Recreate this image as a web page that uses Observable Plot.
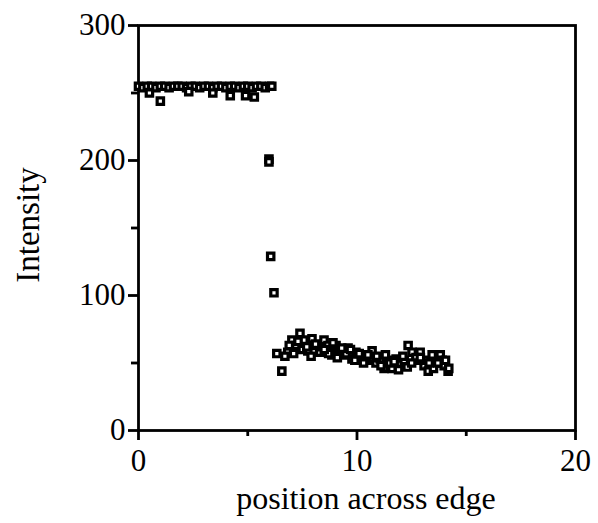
<!DOCTYPE html>
<html>
<head>
<meta charset="utf-8">
<script src="https://cdn.jsdelivr.net/npm/d3@7"></script>
<script src="https://cdn.jsdelivr.net/npm/@observablehq/plot@0.6"></script>
<style>
  html, body { margin: 0; padding: 0; background: white; }
</style>
</head>
<body>
<div id="chart"></div>
<script>
// Plateau (bright side of the edge)
const plateauX = [0,0.2,0.4,0.6,0.8,1.0,1.2,1.4,1.6,1.8,2.0,2.2,2.4,2.6,2.8,3.0,3.2,3.4,3.6,3.8,4.0,4.2,4.4,4.6,4.8,5.0,5.2,5.4,5.6,5.8,6.0,6.1,
                  0.5,1.0,2.3,3.4,4.2,4.9,5.3];
const plateauY = [255,254,255,255,254,255,255,254,255,255,255,254,255,255,254,255,255,254,255,255,254,255,255,254,255,255,254,255,255,254,255,255,
                  250,244,251,250,248,248,247];
// Transition across the edge
const edgeX = [5.97, 5.97, 6.05, 6.2];
const edgeY = [201, 199, 129, 102];
// Dark side of the edge
const darkX = [6.33,6.56,6.83,7.02,7.2,7.39,7.57,7.75,7.94,8.12,8.3,8.49,8.67,8.85,9.04,9.22,9.4,9.59,9.77,9.95,10.14,10.32,10.5,10.69,10.87,11.06,11.24,11.42,11.6,11.79,11.97,12.16,12.34,12.52,12.71,12.89,13.07,13.26,13.44,13.62,13.81,13.99,14.17,
               6.7,7.1,7.5,7.9,8.3,8.7,9.1,9.5,9.9,10.3,10.7,11.1,11.5,11.9,12.3,12.7,13.1,13.5,13.9,14.2,
               6.9,7.3,7.7,8.1,8.5,8.9,9.3,9.7,10.1,10.5,10.9,11.3,11.7,12.1,12.5,12.9,13.3,13.7,14.05];
const darkY = [57,44,58,67,63,72,67,59,68,63,58,67,63,56,63,59,56,61,53,58,53,56,52,59,50,53,46,52,46,53,49,52,63,58,52,58,48,44,56,50,56,48,44,
               55,57,60,55,62,57,54,57,52,50,54,48,50,45,47,54,52,46,52,46,
               63,66,62,64,60,65,61,60,57,56,55,56,51,55,50,54,50,50,52];

const xMajor = [0, 10, 20];
const xMinor = [5, 15];
const yMajor = [0, 100, 200, 300];
const yMinor = [50, 150, 250];

const data = [
  ...plateauX.map((x, i) => ({x, y: plateauY[i]})),
  ...edgeX.map((x, i) => ({x, y: edgeY[i]})),
  ...darkX.map((x, i) => ({x, y: darkY[i]}))
];

const chart = Plot.plot({
  width: 598,
  height: 523,
  marginLeft: 138,
  marginRight: 23,
  marginTop: 25,
  marginBottom: 93,
  style: {fontFamily: "'Liberation Serif', 'DejaVu Serif', serif", fontSize: "30px", color: "black", background: "white"},
  x: {domain: [0, 20]},
  y: {domain: [0, 300]},
  marks: [
    Plot.frame({stroke: "black", strokeWidth: 2.8}),
    Plot.axisY({ticks: yMajor, tickSize: 10, tickPadding: 3, strokeWidth: 2.8, label: null, fontSize: 31}),
    Plot.axisY({ticks: yMinor, tickSize: 7, text: null, strokeWidth: 2.8, label: null}),
    Plot.axisX({ticks: xMajor, tickSize: 10, tickPadding: 8, strokeWidth: 2.8, label: null, fontSize: 31}),
    Plot.axisX({ticks: xMinor, tickSize: 6, text: null, strokeWidth: 2.8, label: null}),
    Plot.dot(data, {x: "x", y: "y", symbol: "square", r: 3.6, stroke: "black", strokeWidth: 3.2, fill: "white", clip: false}),
    Plot.text(["position across edge"], {frameAnchor: "bottom", dx: 9, dy: 78, lineAnchor: "bottom", textAnchor: "middle", fontSize: 32}),
    Plot.text(["Intensity"], {frameAnchor: "left", dx: -110, dy: -3, rotate: -90, textAnchor: "middle", fontSize: 33})
  ]
});
document.getElementById("chart").appendChild(chart);
</script>
</body>
</html>
